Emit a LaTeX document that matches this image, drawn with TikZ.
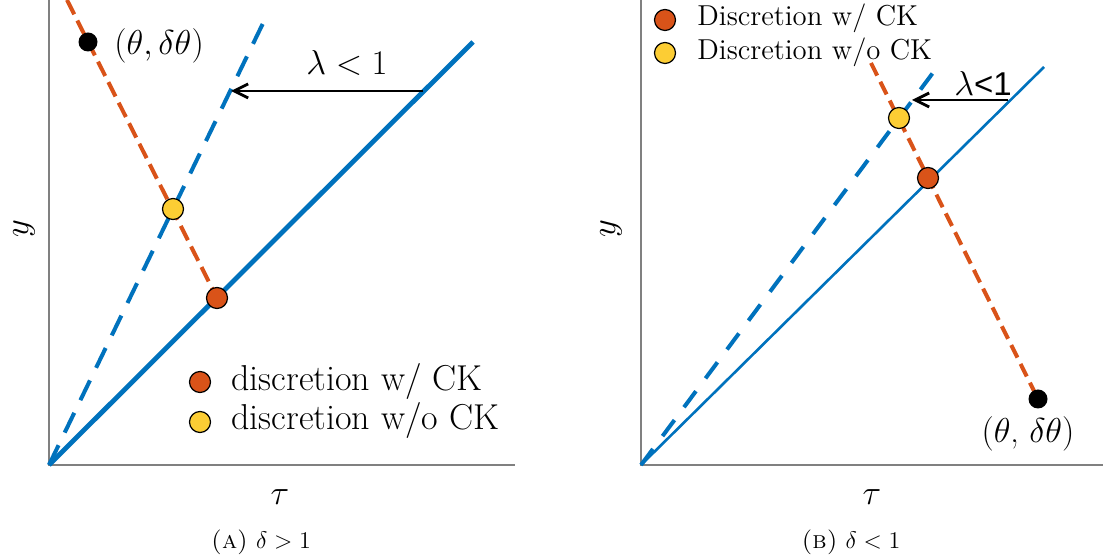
\documentclass[tikz,border=0pt]{standalone}
\usepackage{fontspec}
\newfontfamily\helv{Liberation Sans}
\usetikzlibrary{arrows.meta}
\definecolor{mblue}{RGB}{0,114,189}
\definecolor{morange}{RGB}{217,83,25}
\definecolor{myellow}{RGB}{252,205,52}
\definecolor{axisgrey}{RGB}{128,128,128}

\begin{document}
\begin{tikzpicture}[x=0.5pt,y=-0.5pt,>={Straight Barb[length=7pt,width=7pt]},
  axis/.style={axisgrey,line width=0.8pt},
  dot/.style={circle,draw=black,line width=0.6pt,inner sep=0pt,minimum size=10.5pt},
  bigfont/.style={font=\fontsize{16}{19}\selectfont},
  legfont/.style={font=\fontsize{18}{21}\selectfont},
  capfont/.style={font=\fontsize{12.4}{15}\selectfont}]
  \useasboundingbox (0,0) rectangle (1103,560);
  % left panel
  \coordinate (oA) at (49,465);
  \coordinate (solA) at (473,42);
  \coordinate (dasA) at (267,15);
  \coordinate (topA) at (67,0);
  \coordinate (ckA) at (217,298);
  \coordinate (nockA) at (173,209);
  \coordinate (ptA) at (88,42);
  \coordinate (arrA1) at (423,91);
  \coordinate (arrA2) at (231,91);
  \draw[axis] (49,0) -- (oA) -- (515,465);
  \draw[mblue,line width=2.4pt] (oA) -- (solA);
  \draw[mblue,line width=2pt,dash pattern=on 11pt off 7pt] (oA) -- (dasA);
  \draw[morange,line width=2pt,dash pattern=on 8pt off 3.5pt] (topA) -- (ckA);
  \draw[->,line width=1.4pt] (arrA1) -- (arrA2);
  \node[dot,fill=black,draw=none,minimum size=9.5pt] (bkA) at (ptA) {};
  \node[dot,fill=myellow] (yeA) at (nockA) {};
  \node[dot,fill=morange] (orA) at (ckA) {};
  \node[font=\fontsize{16.5}{20}\selectfont,anchor=west,inner sep=0pt] (ptlabA) at (114,46) {$(\theta,\delta\theta)$};
  \node[bigfont] (lamA) at (347,63) {$\lambda<1$};
  \node[dot,fill=morange] (legorA) at (200,382) {};
  \node[dot,fill=myellow] (legyeA) at (200,422) {};
  \node[legfont,anchor=base west,inner sep=0pt] (legtxA1) at (231,391) {discretion w/ CK};
  \node[legfont,anchor=base west,inner sep=0pt] (legtxA2) at (231,430) {discretion w/o CK};
  \node[font=\fontsize{18}{20}\selectfont] (tauA) at (280,497) {$\tau$};
  \node[font=\fontsize{18}{20}\selectfont,rotate=90] (yA) at (24,229) {$y$};
  \node[capfont] (capA) at (261,542) {\textsc{(a)} $\delta>1$};
  % right panel
  \coordinate (oB) at (641,465);
  \coordinate (solB) at (1044,67);
  \coordinate (dasB) at (938,66);
  \coordinate (topB) at (871,63);
  \coordinate (ckB) at (928,178);
  \coordinate (nockB) at (899,118);
  \coordinate (ptB) at (1038,399);
  \coordinate (arrB1) at (1008,100);
  \coordinate (arrB2) at (912,100);
  \draw[axis] (641,0) -- (oB) -- (1103,465);
  \draw[mblue,line width=1.3pt] (oB) -- (solB);
  \draw[mblue,line width=2pt,dash pattern=on 10pt off 8pt] (oB) -- (dasB);
  \draw[morange,line width=2pt,dash pattern=on 7pt off 3.5pt] (topB) -- (ptB);
  \draw[->,line width=1.4pt] (arrB1) -- (arrB2);
  \node[dot,fill=black,draw=none,minimum size=9.5pt] (bkB) at (ptB) {};
  \node[dot,fill=myellow] (yeB) at (nockB) {};
  \node[dot,fill=morange] (orB) at (ckB) {};
  \node[font=\fontsize{17}{20}\selectfont] (ptlabB) at (1028,434) {$(\theta$, $\delta\theta)$};
  \node[font=\fontsize{16.5}{19}\selectfont] (lamB) at (983,84) {$\lambda$\helv <1};
  \node[dot,fill=morange] (legorB) at (665,20) {};
  \node[dot,fill=myellow] (legyeB) at (665,53) {};
  \node[font=\fontsize{14.4}{17}\selectfont,anchor=base west,inner sep=0pt] (legtxB1) at (697,26) {Discretion w/ CK};
  \node[font=\fontsize{14.4}{17}\selectfont,anchor=base west,inner sep=0pt] (legtxB2) at (697,60) {Discretion w/o CK};
  \node[font=\fontsize{18}{20}\selectfont] (tauB) at (872,497) {$\tau$};
  \node[font=\fontsize{18}{20}\selectfont,rotate=90] (yB) at (611,229) {$y$};
  \node[capfont] (capB) at (851,542) {\textsc{(b)} $\delta<1$};
\end{tikzpicture}
\end{document}
